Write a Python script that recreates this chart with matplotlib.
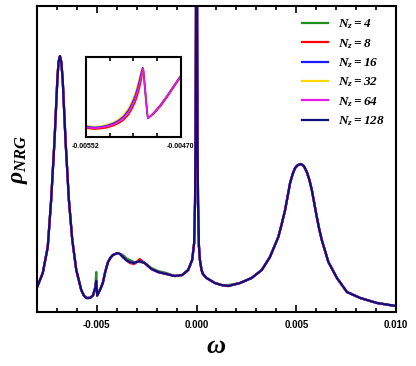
import matplotlib
matplotlib.use("Agg")
import matplotlib.pyplot as plt
from matplotlib.ticker import MultipleLocator, FixedLocator, FormatStrFormatter, NullLocator

# ---- data (rho in arbitrary units) ----
omega_main = [
    -0.00801, -0.00771, -0.00746, -0.00729, -0.00712, -0.00698, -0.00692, -0.00685, -0.00678, -0.00671,
    -0.00657, -0.00640, -0.00623, -0.00603, -0.00578, -0.00565, -0.00552, -0.00534, -0.00519, -0.00507,
    -0.00503, -0.00498, -0.00482, -0.00470, -0.00458, -0.00444, -0.00431, -0.00419, -0.00397, -0.00383,
    -0.00369, -0.00350, -0.00335, -0.00314, -0.00300, -0.00285, -0.00260, -0.00226, -0.00193, -0.00151,
    -0.00109, -0.00072, -0.00042, -0.00022, -0.00012, -0.000075, -0.00005, -0.00003, -0.00001, 0.0,
    0.00001, 0.00003, 0.00005, 0.000075, 0.00012, 0.00017, 0.00025, 0.00032, 0.00050, 0.00067,
    0.00092, 0.00125, 0.00159, 0.00218, 0.00276, 0.00327, 0.00368, 0.00410, 0.00427, 0.00444,
    0.00457, 0.00469, 0.00482, 0.00494, 0.00508, 0.00523, 0.00538, 0.00553, 0.00566, 0.00578,
    0.00590, 0.00603, 0.00615, 0.00628, 0.00661, 0.00704, 0.00754, 0.00821, 0.00905, 0.01000,
]

rho_nz128 = [
    0.24, 0.39, 0.65, 1.12, 1.72, 2.32, 2.50, 2.56, 2.50, 2.32,
    1.72, 1.12, 0.72, 0.42, 0.22, 0.165, 0.14, 0.141, 0.166, 0.248,
    0.312, 0.164, 0.231, 0.29, 0.40, 0.50, 0.545, 0.57, 0.59, 0.58,
    0.55, 0.515, 0.50, 0.49, 0.50, 0.51, 0.49, 0.43, 0.40, 0.38,
    0.36, 0.37, 0.42, 0.52, 0.69, 1.10, 1.73, 2.80, 4.70, 5.20,
    4.70, 2.80, 1.73, 1.10, 0.66, 0.52, 0.42, 0.38, 0.34, 0.32,
    0.29, 0.27, 0.26, 0.29, 0.34, 0.42, 0.55, 0.75, 0.88, 1.02,
    1.16, 1.29, 1.38, 1.44, 1.47, 1.48, 1.46, 1.40, 1.32, 1.22,
    1.09, 0.95, 0.83, 0.72, 0.50, 0.34, 0.20, 0.14, 0.09, 0.06,
]

rho_nz4 = [
    0.24, 0.39, 0.65, 1.12, 1.72, 2.32, 2.50, 2.56, 2.50, 2.32,
    1.72, 1.12, 0.72, 0.42, 0.22, 0.165, 0.14, 0.141, 0.166, 0.26,
    0.40, 0.17, 0.231, 0.29, 0.40, 0.50, 0.545, 0.57, 0.59, 0.58,
    0.57, 0.535, 0.52, 0.50, 0.50, 0.50, 0.49, 0.44, 0.41, 0.39,
    0.36, 0.37, 0.42, 0.52, 0.69, 1.10, 1.73, 2.80, 4.70, 5.20,
    4.70, 2.80, 1.73, 1.10, 0.66, 0.52, 0.42, 0.38, 0.34, 0.32,
    0.29, 0.27, 0.27, 0.29, 0.34, 0.42, 0.55, 0.75, 0.88, 1.02,
    1.16, 1.29, 1.38, 1.44, 1.47, 1.48, 1.46, 1.40, 1.32, 1.22,
    1.09, 0.95, 0.83, 0.72, 0.50, 0.34, 0.20, 0.14, 0.09, 0.06,
]

rho_nz8 = [
    0.24, 0.39, 0.65, 1.12, 1.72, 2.32, 2.50, 2.56, 2.50, 2.32,
    1.72, 1.12, 0.72, 0.42, 0.22, 0.165, 0.14, 0.141, 0.166, 0.248,
    0.312, 0.164, 0.231, 0.29, 0.40, 0.50, 0.545, 0.57, 0.59, 0.58,
    0.55, 0.515, 0.49, 0.48, 0.50, 0.53, 0.49, 0.43, 0.40, 0.38,
    0.36, 0.37, 0.42, 0.52, 0.69, 1.10, 1.73, 2.80, 4.70, 5.20,
    4.70, 2.80, 1.73, 1.10, 0.66, 0.52, 0.42, 0.38, 0.34, 0.32,
    0.29, 0.27, 0.26, 0.29, 0.34, 0.42, 0.55, 0.75, 0.88, 1.02,
    1.16, 1.29, 1.38, 1.44, 1.47, 1.48, 1.46, 1.40, 1.32, 1.22,
    1.09, 0.95, 0.83, 0.72, 0.50, 0.34, 0.20, 0.14, 0.09, 0.06,
]

# Nz = 16, 32, 64 sit on top of Nz = 128 at this scale
nz_values = [4, 8, 16, 32, 64, 128]
nz_colors = ["#1f8f1f", "#ff0000", "#1a1aff", "#ffd700", "#e619e6", "#10107a"]
main_series = [rho_nz4, rho_nz8, rho_nz128, rho_nz128, rho_nz128, rho_nz128]

# inset: zoom on the spike near omega = -0.005
inset_omega = [
    -0.00552, -0.005456, -0.005398, -0.00534, -0.005282, -0.005238, -0.005194, -0.005151,
    -0.005122, -0.005093, -0.005072, -0.005055, -0.00504, -0.005029, -0.005023, -0.005011,
    -0.004999, -0.004988, -0.004982, -0.004933, -0.004874, -0.004816, -0.004758, -0.0047,
]
inset_rho = {
    8: [0.136, 0.133, 0.134, 0.137, 0.143, 0.150, 0.160, 0.176, 0.193, 0.214, 0.236, 0.258,
        0.282, 0.302, 0.308, 0.270, 0.222, 0.180, 0.166, 0.178, 0.201, 0.228, 0.258, 0.287],
    32: [0.143, 0.140, 0.141, 0.146, 0.153, 0.162, 0.175, 0.195, 0.215, 0.240, 0.264, 0.287,
         0.309, 0.315, 0.300, 0.250, 0.205, 0.170, 0.166, 0.182, 0.206, 0.233, 0.263, 0.292],
    16: [0.141, 0.138, 0.139, 0.143, 0.150, 0.158, 0.170, 0.189, 0.208, 0.232, 0.256, 0.279,
         0.302, 0.315, 0.306, 0.256, 0.210, 0.172, 0.165, 0.181, 0.205, 0.232, 0.262, 0.291],
    64: [0.139, 0.136, 0.137, 0.141, 0.147, 0.155, 0.166, 0.184, 0.202, 0.225, 0.248, 0.270,
         0.294, 0.312, 0.310, 0.263, 0.214, 0.174, 0.164, 0.180, 0.204, 0.231, 0.261, 0.290],
}

plt.rcParams["axes.unicode_minus"] = False
plt.rcParams["mathtext.fontset"] = "custom"
plt.rcParams["mathtext.rm"] = "Liberation Serif:italic:bold"
plt.rcParams["mathtext.it"] = "Liberation Serif:italic:bold"
plt.rcParams["mathtext.bf"] = "Liberation Serif:italic:bold"

tick_font = {"family": "Liberation Sans", "weight": "bold"}

fig = plt.figure(figsize=(4.16, 3.66), dpi=100)
ax = fig.add_axes([0.0889, 0.1475, 0.863, 0.836])

for nz, rho, col in zip(nz_values, main_series, nz_colors):
    ax.plot(omega_main, rho, color=col, lw=1.6, label=rf"$N_z = {nz}$")

ax.set_xlim(-0.008, 0.010)
ax.set_ylim(0, 3.06)
ax.xaxis.set_major_locator(MultipleLocator(0.005))
ax.xaxis.set_minor_locator(MultipleLocator(0.001))
ax.xaxis.set_major_formatter(FormatStrFormatter("%.3f"))
ax.yaxis.set_major_locator(NullLocator())
ax.tick_params(axis="x", which="both", direction="in", top=True, width=1.2)
ax.tick_params(axis="x", which="major", length=5, pad=6)
ax.tick_params(axis="x", which="minor", length=3)
for lbl in ax.get_xticklabels():
    lbl.set_fontproperties(tick_font)
    lbl.set_fontsize(7)
for sp in ax.spines.values():
    sp.set_linewidth(1.5)

ax.set_xlabel(r"$\omega$", fontsize=19, labelpad=2)
ax.set_ylabel(r"$\rho_{NRG}$", fontsize=17)
ax.yaxis.set_label_coords(-0.02, 0.5)

ax.legend(loc="upper left", bbox_to_anchor=(0.738, 0.962), frameon=False,
          fontsize=9.5, handlelength=2.0, handletextpad=0.7, labelspacing=0.42,
          borderpad=0, borderaxespad=0)

# ---- inset ----
ins = fig.add_axes([0.2067, 0.6257, 0.2276, 0.2199])
for nz in [8, 32, 16, 64]:
    ins.plot(inset_omega, inset_rho[nz], color=nz_colors[nz_values.index(nz)], lw=1.1)
ins.set_xlim(-0.00552, -0.00470)
ins.set_ylim(0.1095, 0.348)
ins.xaxis.set_major_locator(FixedLocator([-0.00552, -0.005315, -0.00511, -0.004905, -0.00470]))
ins.set_xticklabels(["-0.00552", "", "", "", "-0.00470"])
ins.yaxis.set_major_locator(NullLocator())
ins.tick_params(axis="x", direction="in", top=True, length=3, width=1.2, pad=4)
for lbl in ins.get_xticklabels():
    lbl.set_fontproperties(tick_font)
    lbl.set_fontsize(5)
for sp in ins.spines.values():
    sp.set_linewidth(1.5)

fig.savefig("out.png", dpi=100)
